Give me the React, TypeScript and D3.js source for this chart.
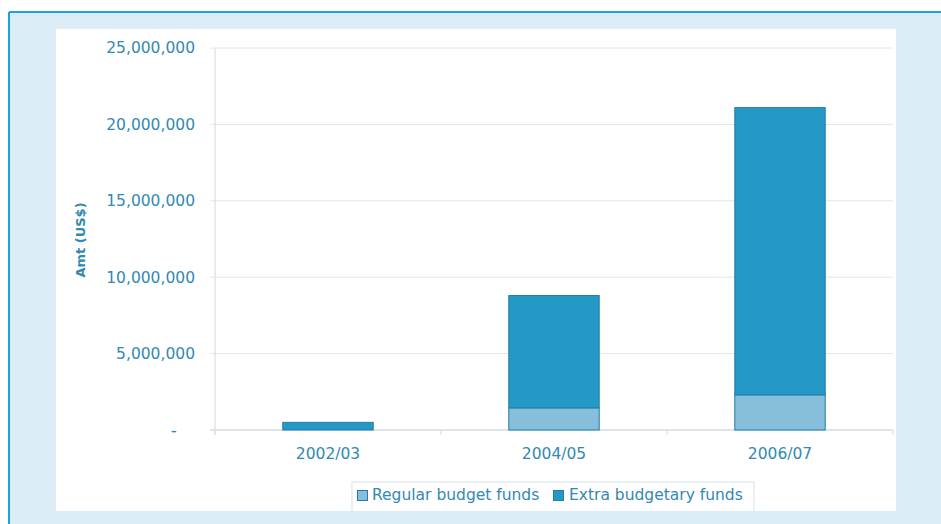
import React from "react";
import * as d3 from "d3";

const categories = ["2002/03", "2004/05", "2006/07"];
const regularBudget = [0, 1450000, 2300000];
const extraBudget = [500000, 7350000, 18800000];
const yTicks = [0, 5000000, 10000000, 15000000, 20000000, 25000000];
const seriesNames = ["Regular budget funds", "Extra budgetary funds"];

const W = 941;
const H = 524;
const TEXT = "#3289b2";
const FONT = "'DejaVu Sans', sans-serif";
const FILL_REG = "#86bedb";
const FILL_EXT = "#2499c5";
const STROKE = "#1f7ea6";

export default function App() {
  const left = 215, right = 893, top = 48, bottom = 430;
  const x = d3.scaleBand<string>().domain(categories).range([left, right]).paddingInner(0).paddingOuter(0);
  const y = d3.scaleLinear().domain([0, 25000000]).range([bottom, top]);
  const bw = x.bandwidth() * 0.4;
  const fmt = d3.format(",");
  const stacked = categories.map((c, i) => ({
    c,
    reg: regularBudget[i],
    ext: extraBudget[i],
  }));
  const bounds = [...categories.map((c) => x(c)!), right];

  return (
    <svg width={W} height={H} style={{ position: "absolute", left: 0, top: 0 }}>
      <rect x={0} y={0} width={W} height={H} fill="#fff" />
      <rect x={9} y={12} width={W - 9} height={H - 12} fill="#dcedf8" />
      <rect x={56} y={29} width={840} height={482} fill="#fff" />

      {yTicks.map((t) => (
        <g key={t}>
          {t > 0 && (
            <line x1={left - 5} x2={right} y1={y(t)} y2={y(t)} stroke="#e2e6e8" strokeWidth={1} />
          )}
          <text
            x={t === 0 ? 177 : 195}
            y={y(t)}
            dy="0.35em"
            textAnchor="end"
            fontFamily={FONT}
            fontSize={t === 0 ? 17 : 15.5}
            fill={TEXT}
          >
            {t === 0 ? "-" : fmt(t)}
          </text>
        </g>
      ))}
      <line x1={left} x2={left} y1={top} y2={bottom + 5} stroke="#d4d8da" strokeWidth={1} />
      <line x1={left - 5} x2={right} y1={bottom} y2={bottom} stroke="#d4dde2" strokeWidth={1.5} />
      {bounds.map((b, i) => (
        <line key={i} x1={b} x2={b} y1={bottom} y2={bottom + 5} stroke="#d4dde2" strokeWidth={1} />
      ))}

      {stacked.map((d) => {
        const cx = x(d.c)! + x.bandwidth() / 2;
        const x0 = cx - bw / 2;
        return (
          <g key={d.c}>
            {d.reg > 0 && (
              <rect
                x={x0}
                y={y(d.reg)}
                width={bw}
                height={y(0) - y(d.reg)}
                fill={FILL_REG}
                stroke={STROKE}
                strokeWidth={1}
              />
            )}
            <rect
              x={x0}
              y={y(d.reg + d.ext)}
              width={bw}
              height={y(d.reg) - y(d.reg + d.ext)}
              fill={FILL_EXT}
              stroke={STROKE}
              strokeWidth={1}
            />
            <text
              x={cx}
              y={459}
              textAnchor="middle"
              fontFamily={FONT}
              fontSize={15.5}
              fill={TEXT}
            >
              {d.c}
            </text>
          </g>
        );
      })}

      <text
        transform="translate(85,240) rotate(-90)"
        textAnchor="middle"
        fontFamily={FONT}
        fontWeight="bold"
        fontSize={13}
        fill={TEXT}
      >
        Amt (US$)
      </text>

      <rect x={352} y={482} width={402} height={32} fill="#fff" stroke="#d6e4ec" strokeWidth={1} />
      <rect x={357.5} y={490.5} width={10} height={10} fill={FILL_REG} stroke={STROKE} strokeWidth={1} />
      <text x={372} y={500} fontFamily={FONT} fontSize={15.5} fill={TEXT}>
        {seriesNames[0]}
      </text>
      <rect x={553.5} y={490.5} width={10} height={10} fill={FILL_EXT} stroke={STROKE} strokeWidth={1} />
      <text x={569} y={500} fontFamily={FONT} fontSize={15.5} fill={TEXT}>
        {seriesNames[1]}
      </text>
      <rect x={9} y={511} width={W - 9} height={H - 511} fill="#dcedf8" />
      <line x1={9} y1={12} x2={W} y2={12} stroke="#1aa3dd" strokeWidth={2} />
      <line x1={9} y1={12} x2={9} y2={H} stroke="#1aa3dd" strokeWidth={2} />
    </svg>
  );
}
